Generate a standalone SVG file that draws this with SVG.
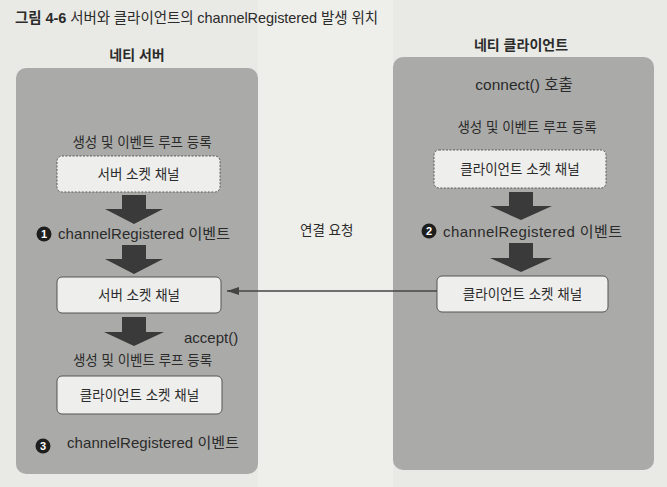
<svg xmlns="http://www.w3.org/2000/svg" width="667" height="487" viewBox="0 0 667 487">
<style>
.kr{font-family:"Liberation Sans","Noto Sans CJK KR",sans-serif;fill:#2b2b2b}
.t{font-size:13.5px}
.lat{font-size:15px}
.head{font-size:14px;font-weight:bold;text-anchor:middle}
.mid{text-anchor:middle}
.panel{fill:#aaaaa8}
.box{fill:#eeeeec;stroke:#555;stroke-width:1}
.dash{fill:#eeeeec;stroke:#5a5a5a;stroke-width:1;stroke-dasharray:2 1.5}
.big{fill:#3a3a3a}
.num{fill:#1e1e1e}
.numt{font-family:"Liberation Sans",sans-serif;font-size:11px;font-weight:bold;fill:#fff;text-anchor:middle}
</style>
<defs>
<marker id="ah" markerWidth="12" markerHeight="8" refX="12" refY="4" orient="auto" markerUnits="userSpaceOnUse">
<path d="M0,0 L12,4 L0,8 Z" fill="#444"/>
</marker>
</defs>
<rect width="667" height="487" fill="#e9e9e5"/>
<rect x="258" y="0" width="135" height="487" fill="#eeeeea"/>

<text class="kr" x="15" y="23" font-size="14.5" textLength="363"><tspan font-weight="bold">그림 4-6</tspan> 서버와 클라이언트의 channelRegistered 발생 위치</text>

<g id="server-panel">
<text class="kr head" x="137" y="60">네티 서버</text>
<rect class="panel" x="16" y="68" width="242" height="406" rx="10"/>
</g>
<g id="client-panel">
<text class="kr head" x="521" y="50">네티 클라이언트</text>
<rect class="panel" x="393" y="57" width="261" height="413" rx="10"/>
</g>

<g id="server-create-label"><text class="kr t mid" x="142" y="147">생성 및 이벤트 루프 등록</text></g>
<g id="server-socket-pending">
<rect class="dash" x="57" y="156" width="163" height="36" rx="5"/>
<text class="kr t mid" x="138.5" y="179">서버 소켓 채널</text>
</g>
<g id="server-event1">
<circle class="num" cx="44" cy="234" r="7.5"/>
<text class="numt" x="44" y="238">1</text>
<text class="kr lat" x="58" y="239" textLength="172">channelRegistered 이벤트</text>
</g>
<g id="server-socket">
<rect class="box" x="57" y="277" width="164" height="36" rx="5"/>
<text class="kr t mid" x="139" y="300">서버 소켓 채널</text>
</g>
<g id="accept-label">
<text class="kr lat" x="184" y="343">accept()</text>
<text class="kr t mid" x="142.5" y="365">생성 및 이벤트 루프 등록</text>
</g>
<g id="server-child-socket">
<rect class="box" x="57" y="376" width="165" height="38" rx="5"/>
<text class="kr t mid" x="139.5" y="400">클라이언트 소켓 채널</text>
</g>
<g id="server-event3">
<circle class="num" cx="43" cy="446" r="7.5"/>
<text class="numt" x="43" y="450">3</text>
<text class="kr lat" x="67" y="448" textLength="172">channelRegistered 이벤트</text>
</g>

<g id="client-connect"><text class="kr mid" font-size="15.5" x="524" y="90">connect() 호출</text></g>
<g id="client-create-label"><text class="kr t mid" x="527" y="132">생성 및 이벤트 루프 등록</text></g>
<g id="client-socket-pending">
<rect class="dash" x="434" y="150" width="172" height="38" rx="5"/>
<text class="kr t mid" x="520" y="174">클라이언트 소켓 채널</text>
</g>
<g id="client-event2">
<circle class="num" cx="429" cy="231" r="7.5"/>
<text class="numt" x="429" y="235">2</text>
<text class="kr lat" x="443" y="237" textLength="179">channelRegistered 이벤트</text>
</g>
<g id="client-socket">
<rect class="box" x="437" y="276" width="171" height="36" rx="5"/>
<text class="kr t mid" x="522.5" y="299">클라이언트 소켓 채널</text>
</g>

<g id="connectors">
<path class="big" d="M122,195 H146 V209 H163 L134,224 L105,209 H122 Z"/>
<path class="big" d="M122,245 H146 V259 H163 L134,274 L105,259 H122 Z"/>
<path class="big" d="M122,317 H146 V332 H164 L134,346 L104,332 H122 Z"/>
<path class="big" d="M509,192 H533 V206 H552 L521,220 L490,206 H509 Z"/>
<path class="big" d="M509,243 H533 V258 H552 L521,272 L490,258 H509 Z"/>
<line x1="437" y1="291" x2="227" y2="291" stroke="#444" stroke-width="1.5" marker-end="url(#ah)"/>
<text class="kr t" x="300" y="235">연결 요청</text>
</g>
</svg>
